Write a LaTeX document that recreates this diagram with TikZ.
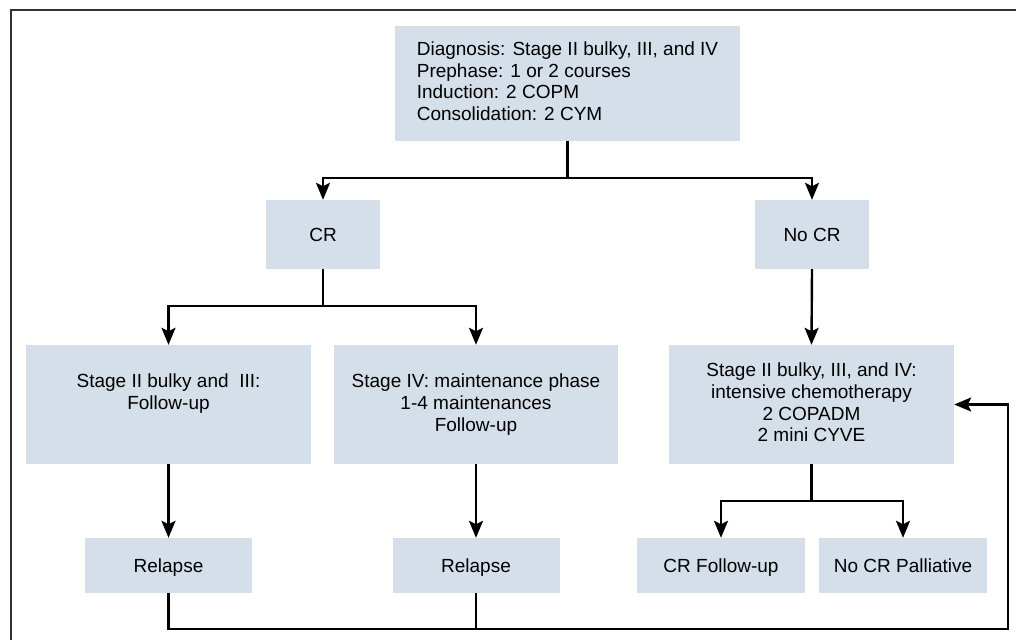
\documentclass[tikz,border=0pt]{standalone}
\usepackage{fontspec}
\setmainfont{Liberation Sans}
\usetikzlibrary{arrows.meta}
\definecolor{boxfill}{RGB}{213,223,234}
\definecolor{framegray}{RGB}{50,50,50}
\newcommand\boxstrut{\rule[-4pt]{0pt}{21.6pt}}
\begin{document}
\begin{tikzpicture}[x=1pt,y=-1pt,
  fbox/.style={fill=boxfill,draw=none,inner sep=0pt,align=center,
    font=\fontsize{19}{21.7}\selectfont,
    execute at begin node=\boxstrut, execute at end node=\boxstrut},
  conn/.style={line width=2.4pt,draw=black},
  arr/.style={conn,-{Stealth[length=17pt,width=14pt,inset=3.5pt]}}]
\useasboundingbox (0,0) rectangle (1016,640);
% frame (top and left edges)
\draw[framegray,line width=2pt] (1016,10) -- (11,10) -- (11,640);
% nodes
\node[fbox,minimum width=345pt,minimum height=115pt,align=left] (top) at (567.5,83)
  {Diagnosis: Stage II bulky, III, and IV\\Prephase: 1 or 2 courses\\Induction: 2 COPM\\Consolidation: 2 CYM};
\node[fbox,minimum width=114pt,minimum height=69pt] (cr) at (323,234.5) {CR};
\node[fbox,minimum width=114pt,minimum height=69pt] (nocr) at (812,234.5) {No CR};
\node[fbox,minimum width=285pt,minimum height=119pt] (sa) at (168.5,404.5)
  {Stage II bulky and~ III:\\Follow-up\\\mbox{}};
\node[fbox,minimum width=284pt,minimum height=119pt] (sb) at (476,404.5)
  {Stage IV: maintenance phase\\1-4 maintenances\\Follow-up};
\node[fbox,minimum width=285pt,minimum height=119pt] (chem) at (811.5,404.5)
  {Stage II bulky, III, and IV:\\intensive chemotherapy\\2 COPADM\\2 mini CYVE};
\node[fbox,minimum width=167pt,minimum height=55pt] (r1) at (168.5,565.5) {Relapse};
\node[fbox,minimum width=167pt,minimum height=55pt] (r2) at (476,565.5) {Relapse};
\node[fbox,minimum width=168pt,minimum height=55pt] (crf) at (721,565.5) {CR Follow-up};
\node[fbox,minimum width=168pt,minimum height=55pt] (ncp) at (903,565.5) {No CR Palliative};
% junction coordinates
\coordinate (j1) at (567.5,178);
\coordinate (j2) at (323,306);
\coordinate (j3) at (811.5,501);
\coordinate (c1) at (1008,629);
% connectors
\draw[conn] (top.south) -- (j1);
\draw[arr] (j1) -| (cr.north);
\draw[arr] (j1) -| (nocr.north);
\draw[conn] (cr.south) -- (j2);
\draw[arr] (j2) -| (sa.north);
\draw[arr] (j2) -| (sb.north);
\draw[arr] (nocr.south) -- (chem.north);
\draw[arr] (sa.south) -- (r1.north);
\draw[arr] (sb.south) -- (r2.north);
\draw[conn] (chem.south) -- (j3);
\draw[arr] (j3) -| (crf.north);
\draw[arr] (j3) -| (ncp.north);
\draw[arr] (r1.south) |- (c1) |- (chem.east);
\draw[conn] (r2.south) -- (r2.south |- c1);
\end{tikzpicture}
\end{document}
